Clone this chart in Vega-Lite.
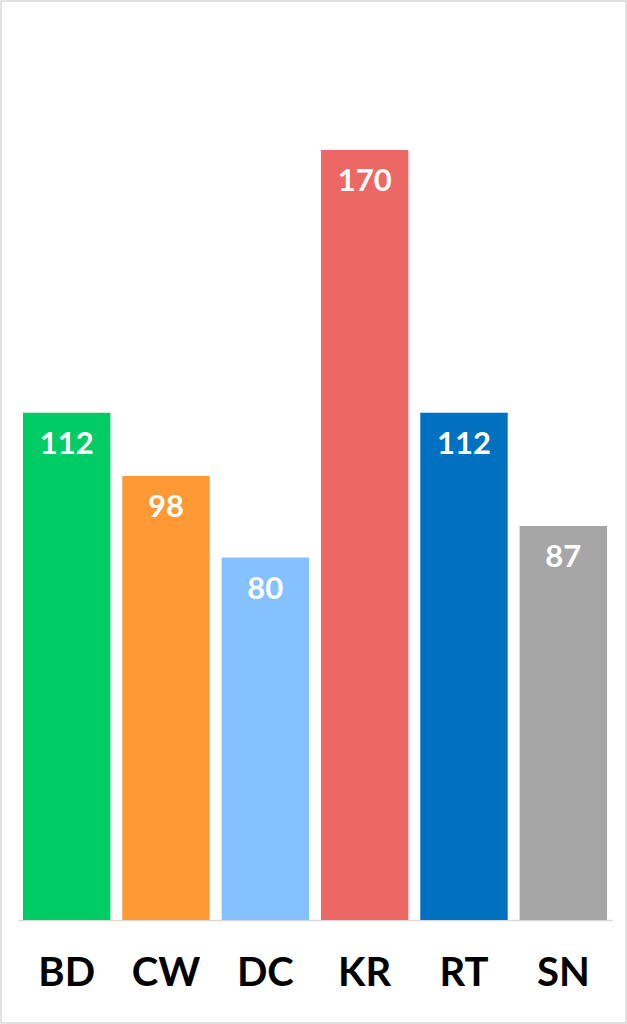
{
  "$schema": "https://vega.github.io/schema/vega-lite/v6.json",
  "width": 625,
  "height": 1022,
  "padding": {"left": 1, "top": 1, "right": 1, "bottom": 1},
  "autosize": {"type": "none"},
  "background": "white",
  "config": {"view": {"stroke": "#d9d9d9", "strokeWidth": 1.5}},
  "data": {"values": [
    {"cat": "BD", "value": 112},
    {"cat": "CW", "value": 98},
    {"cat": "DC", "value": 80},
    {"cat": "KR", "value": 170},
    {"cat": "RT", "value": 112},
    {"cat": "SN", "value": 87}
  ]},
  "encoding": {
    "x": {"field": "cat", "type": "nominal", "sort": null,
      "scale": {"range": [17, 611], "paddingInner": 0.12, "paddingOuter": 0.05},
      "axis": {"title": null, "orient": "bottom", "offset": -103, "ticks": false,
        "domainColor": "#d9d9d9", "domainWidth": 1.5, "labelAngle": 0,
        "labelFont": "Lato", "labelFontWeight": "bold", "labelFontSize": 40,
        "labelColor": "#000000", "labelBaseline": "alphabetic", "labelPadding": 65}},
    "y": {"field": "value", "type": "quantitative",
      "scale": {"domain": [-22.76, 202.9], "nice": false, "zero": false},
      "axis": null}
  },
  "layer": [
    {"mark": {"type": "bar"},
     "encoding": {
       "y2": {"datum": 0},
       "color": {"field": "cat", "type": "nominal", "legend": null,
         "scale": {"domain": ["BD", "CW", "DC", "KR", "RT", "SN"],
           "range": ["#00CC66", "#FF9933", "#85C0FF", "#EC6865", "#0070C0", "#A6A6A6"]}}
     }},
    {"mark": {"type": "text", "color": "white", "font": "Lato", "fontWeight": "bold",
       "fontSize": 31, "baseline": "middle", "dy": 32},
     "encoding": {"text": {"field": "value", "type": "quantitative"}}}
  ]
}
